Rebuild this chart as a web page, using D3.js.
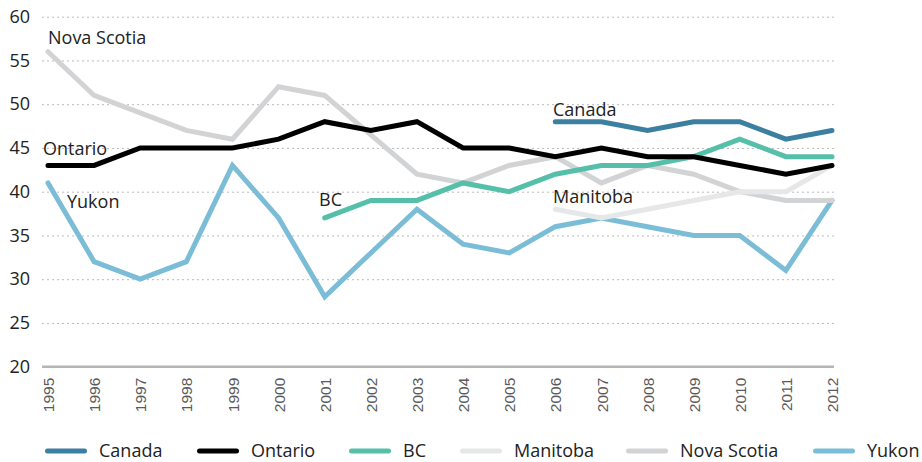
<!DOCTYPE html>
<html>
<head>
<meta charset="utf-8">
<script src="https://d3js.org/d3.v7.min.js"></script>
<style>
  body { margin: 0; background: #fff; }
  svg text { font-family: "Open Sans", sans-serif; fill: #222; }
  .grid line { stroke: #bbb; stroke-dasharray: 2,3; }
  .xaxis text { font-family: "Liberation Sans", Arial, sans-serif; fill: #5a5a5a; font-size: 15.5px; }
  .series { fill: none; stroke-width: 5; stroke-linecap: round; stroke-linejoin: miter; }
</style>
</head>
<body>
<svg width="922" height="462"></svg>
<script>
// years on the x axis
var years = d3.range(1995, 2013);
var yTicks = [20, 25, 30, 35, 40, 45, 50, 55, 60];

// values per series, starting at the given year
var canada     = [48, 48, 47, 48, 48, 46, 47];                       // from 2006
var ontario    = [43, 43, 45, 45, 45, 46, 48, 47, 48, 45, 45, 44, 45, 44, 44, 43, 42, 43];
var bc         = [37, 39, 39, 41, 40, 42, 43, 43, 44, 46, 44, 44];   // from 2001
var manitoba   = [38, 37, 38, 39, 40, 40, 43];                       // from 2006
var novaScotia = [56, 51, 49, 47, 46, 52, 51, 46.5, 42, 41, 43, 44, 41, 43, 42, 40, 39, 39];
var yukon      = [41, 32, 30, 32, 43, 37, 28, 33, 38, 34, 33, 36, 37, 36, 35, 35, 31, 39];

var series = [
  {name: 'Canada', start: 2006, values: canada, color: '#3b7fa1', lx: 553, ly: 116},
  {name: 'Ontario', start: 1995, values: ontario, color: '#000000', lx: 43, ly: 155},
  {name: 'BC', start: 2001, values: bc, color: '#55bfaa', lx: 319, ly: 206},
  {name: 'Manitoba', start: 2006, values: manitoba, color: '#e6e7e8', lx: 553, ly: 203},
  {name: 'Nova Scotia', start: 1995, values: novaScotia, color: '#d2d3d5', lx: 48, ly: 44},
  {name: 'Yukon', start: 1995, values: yukon, color: '#7bbdd7', lx: 67, ly: 208}
];

// left edge of each legend swatch
var legendX = [45, 197, 349, 460, 626, 813];

var svg = d3.select('svg');

var x = d3.scaleLinear().domain([1995, 2012]).range([48, 832]);
var y = d3.scaleLinear().domain([20, 60]).range([366.7, 16.7]);

// horizontal dotted grid + y labels
var grid = svg.append('g')
  .attr('class', 'grid')
  .attr('transform', 'translate(42,0)')
  .call(d3.axisLeft(y).tickValues(yTicks).tickSize(-792).tickPadding(12));
grid.select('.domain').remove();
grid.selectAll('text').style('font-size', '18px').style('fill', '#222');
grid.selectAll('.tick').filter(d => d === 20).select('line').remove();

// baseline
svg.append('line')
  .attr('x1', 42).attr('x2', 834)
  .attr('y1', y(20)).attr('y2', y(20))
  .attr('stroke', '#b5b5b5').attr('stroke-width', 2.5);

// x axis labels
var xAxis = svg.append('g')
  .attr('class', 'xaxis')
  .attr('transform', `translate(0,${y(20)})`)
  .call(d3.axisBottom(x).tickValues(years).tickFormat(d3.format('d')).tickSize(0));
xAxis.select('.domain').remove();
xAxis.selectAll('text')
  .attr('transform', 'rotate(-90)')
  .attr('text-anchor', 'end')
  .attr('x', -11)
  .attr('y', 0)
  .attr('dy', '0.36em');

var line = d3.line()
  .x(d => x(d.year))
  .y(d => y(d.value));

// draw in reverse so Canada sits on top
series.slice().reverse().forEach(function (s) {
  var pts = s.values.map((v, i) => ({year: s.start + i, value: v}));
  svg.append('path')
    .datum(pts)
    .attr('class', 'series')
    .attr('stroke', s.color)
    .attr('d', line);
});

// direct labels
svg.selectAll('.lbl')
  .data(series)
  .enter()
  .append('text')
  .attr('class', 'lbl')
  .attr('x', d => d.lx)
  .attr('y', d => d.ly)
  .style('font-size', '18px')
  .text(d => d.name);

// legend
var legend = svg.selectAll('.leg')
  .data(series)
  .enter()
  .append('g')
  .attr('class', 'leg')
  .attr('transform', (d, i) => `translate(${legendX[i]},0)`);
legend.append('line')
  .attr('x1', 2.5).attr('x2', 39.5)
  .attr('y1', 451).attr('y2', 451)
  .attr('stroke', d => d.color)
  .attr('stroke-width', 5)
  .attr('stroke-linecap', 'round');
legend.append('text')
  .attr('x', 54)
  .attr('y', 457)
  .style('font-size', '18px')
  .text(d => d.name);
</script>
</body>
</html>
